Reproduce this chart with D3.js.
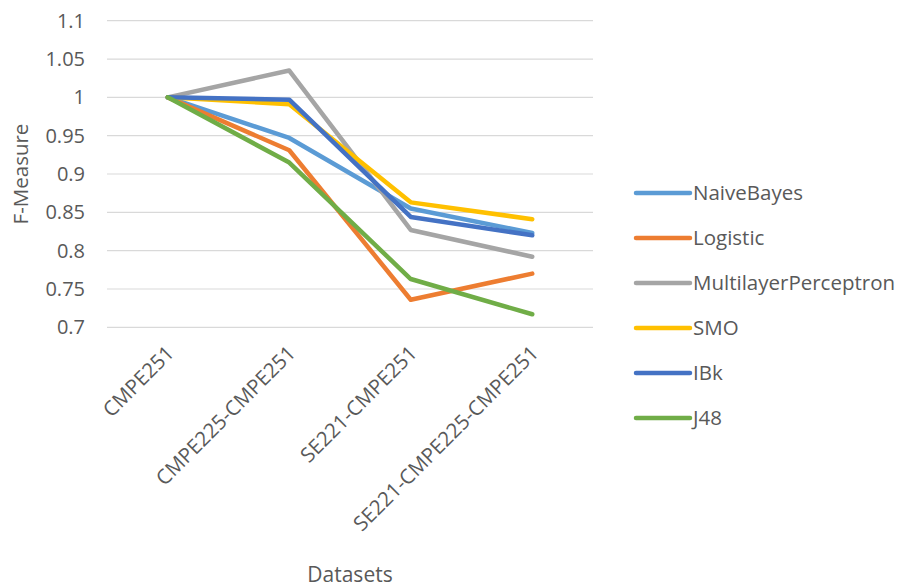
<!DOCTYPE html>
<html>
<head>
<meta charset="utf-8">
<script src="https://cdn.jsdelivr.net/npm/d3@7"></script>
<style>
  html, body { margin: 0; padding: 0; background: #fff; }
  text { font-family: "Open Sans", "Liberation Sans", sans-serif; fill: #595959; }
</style>
</head>
<body>
<svg id="chart" width="906" height="588"></svg>
<script>
// Datasets on the x axis
const datasets = ["CMPE251", "CMPE225-CMPE251", "SE221-CMPE251", "SE221-CMPE225-CMPE251"];

// F-Measure per classifier, one value per dataset
const naiveBayes = [1.000, 0.947, 0.855, 0.823];
const logistic = [1.000, 0.931, 0.736, 0.770];
const multilayerPerceptron = [1.000, 1.035, 0.827, 0.792];
const smo = [1.000, 0.991, 0.863, 0.841];
const ibk = [1.000, 0.997, 0.844, 0.820];
const j48 = [1.000, 0.915, 0.763, 0.717];

const seriesNames = ["NaiveBayes", "Logistic", "MultilayerPerceptron", "SMO", "IBk", "J48"];
const seriesColors = ["#5B9BD5", "#ED7D31", "#A5A5A5", "#FFC000", "#4472C4", "#70AD47"];
const yTicks = [0.7, 0.75, 0.8, 0.85, 0.9, 0.95, 1, 1.05, 1.1];

const series = [naiveBayes, logistic, multilayerPerceptron, smo, ibk, j48].map((values, i) => ({
  name: seriesNames[i], color: seriesColors[i], values
}));

const svg = d3.select("#chart");
const plot = { left: 107, right: 593, top: 20.7, bottom: 327.3 };

const x = d3.scalePoint().domain(datasets).range([plot.left, plot.right]).padding(0.5);
const y = d3.scaleLinear().domain([0.7, 1.1]).range([plot.bottom, plot.top]);

// Horizontal gridlines
svg.append("g").selectAll("line").data(yTicks).join("line")
  .attr("x1", plot.left).attr("x2", plot.right)
  .attr("y1", d => y(d)).attr("y2", d => y(d))
  .attr("stroke", "#D9D9D9").attr("stroke-width", 1.2);

// Y axis tick labels
const yAxis = svg.append("g")
  .attr("transform", `translate(${plot.left - 22},0)`)
  .call(d3.axisLeft(y).tickValues(yTicks).tickFormat(d3.format("~g")).tickSize(0).tickPadding(0));
yAxis.select(".domain").remove();
yAxis.selectAll("text").attr("font-size", 20).attr("fill", "#595959")
  .attr("font-family", "'Open Sans', sans-serif");

// X axis labels, rotated
const xAxis = svg.append("g")
  .attr("transform", `translate(0,${plot.bottom + 10})`)
  .call(d3.axisBottom(x).tickSize(0).tickPadding(0));
xAxis.select(".domain").remove();
xAxis.selectAll("text")
  .attr("font-size", 20.5).attr("fill", "#595959")
  .attr("font-family", "'Open Sans', sans-serif")
  .attr("text-anchor", "end")
  .attr("dy", "0.35em")
  .attr("transform", "translate(2,12) rotate(-45)");

// Series lines
const line = d3.line().x((d, i) => x(datasets[i])).y(d => y(d));
svg.append("g").selectAll("path").data(series).join("path")
  .attr("d", d => line(d.values))
  .attr("fill", "none")
  .attr("stroke", d => d.color)
  .attr("stroke-width", 4.5)
  .attr("stroke-linejoin", "round")
  .attr("stroke-linecap", "round");

// Axis titles
svg.append("text")
  .attr("x", (plot.left + plot.right) / 2).attr("y", 582)
  .attr("text-anchor", "middle").attr("font-size", 21)
  .text("Datasets");
svg.append("text")
  .attr("transform", `translate(28,${(plot.top + plot.bottom) / 2}) rotate(-90)`)
  .attr("text-anchor", "middle").attr("font-size", 20.5)
  .text("F-Measure");

// Legend
const legend = svg.append("g").selectAll("g").data(series).join("g")
  .attr("transform", (d, i) => `translate(636,${193 + i * 45})`);
legend.append("line")
  .attr("x1", 0).attr("x2", 54).attr("y1", 0).attr("y2", 0)
  .attr("stroke", d => d.color).attr("stroke-width", 4.5).attr("stroke-linecap", "round");
legend.append("text")
  .attr("x", 57).attr("dy", "0.35em").attr("font-size", 20.5)
  .text(d => d.name);
</script>
</body>
</html>
